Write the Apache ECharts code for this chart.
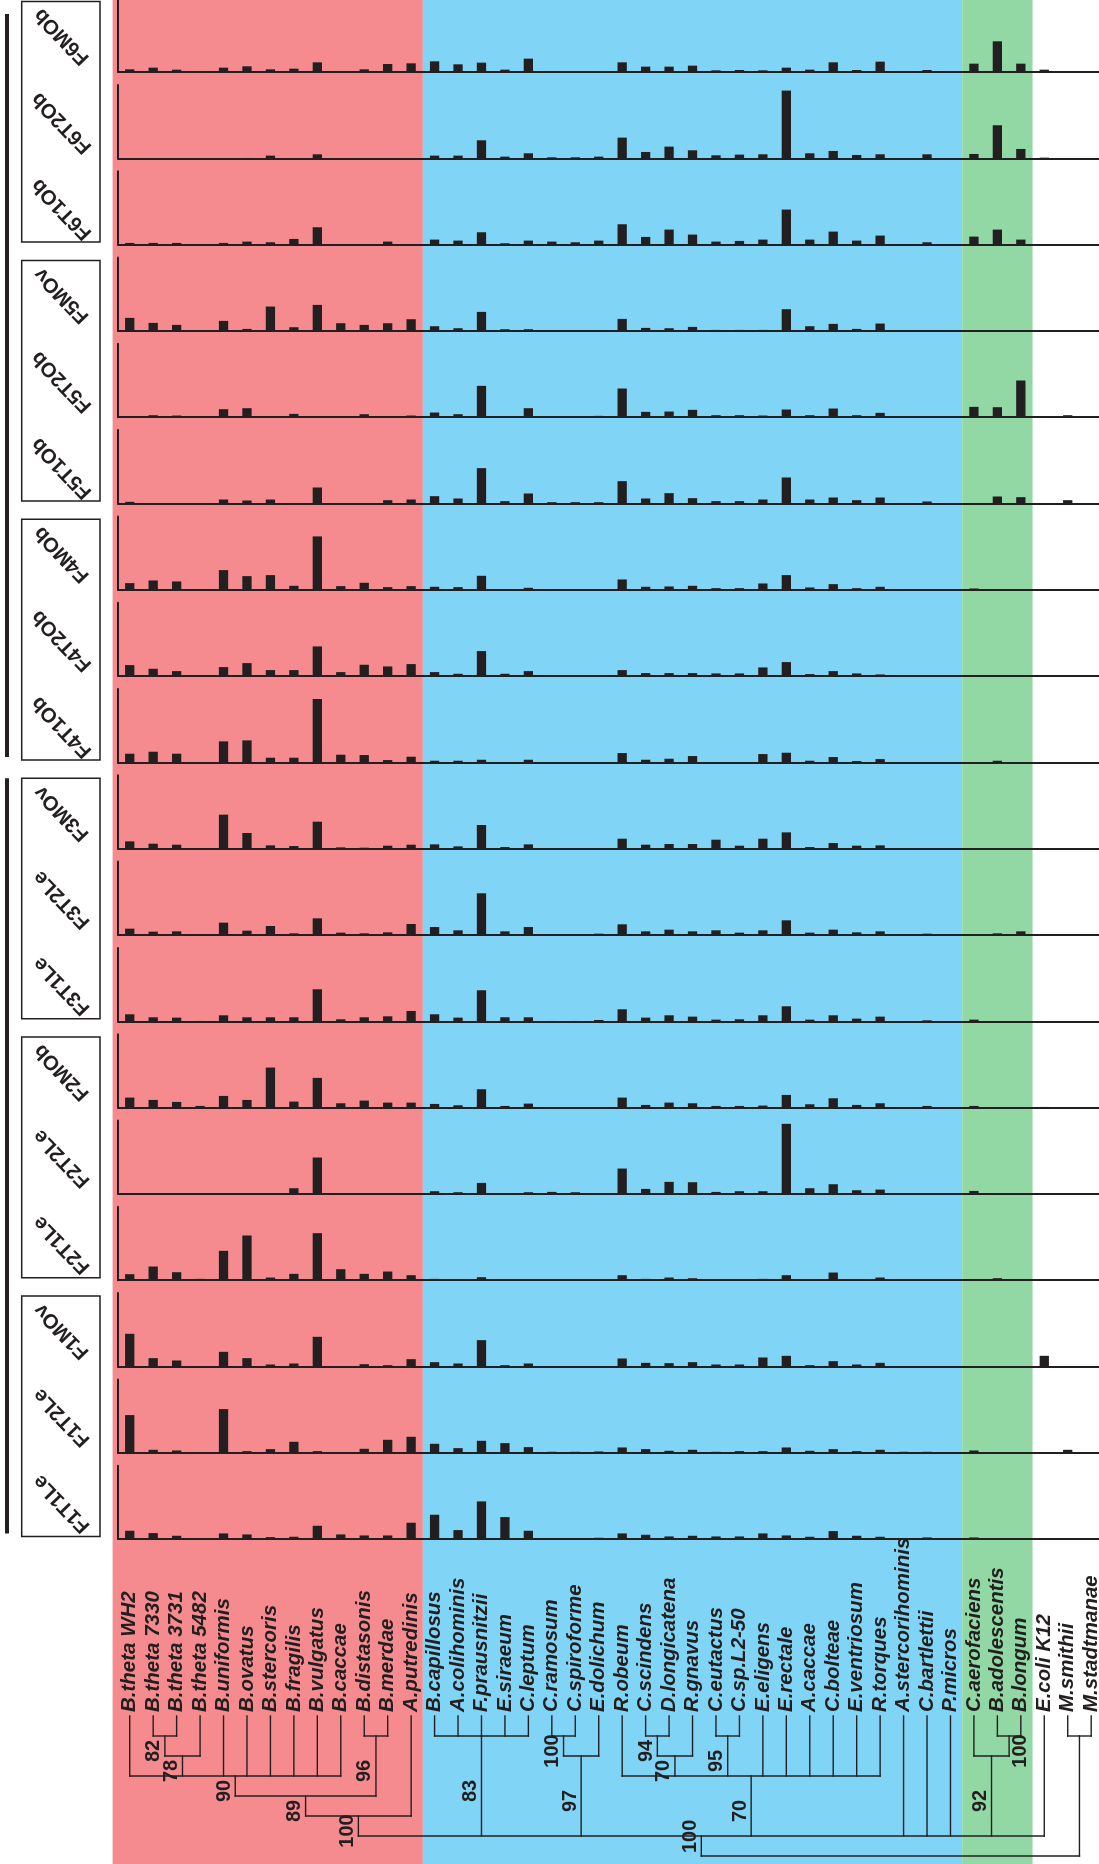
<!DOCTYPE html>
<html>
<head>
<meta charset="utf-8">
<title>Relative abundance of reference gut genomes across family samples</title>
<script src="https://cdn.jsdelivr.net/npm/echarts@6/dist/echarts.min.js"></script>
<style>
  html, body { margin: 0; padding: 0; background: #ffffff; }
  #chart { width: 1099px; height: 1864px; }
</style>
</head>
<body>
<div id="chart"></div>
<script>
// ---------------------------------------------------------------------------
// Data
// ---------------------------------------------------------------------------

// Reference genomes (columns), ordered as in the phylogeny below.
const species = [
  'B.theta WH2', 'B.theta 7330', 'B.theta 3731', 'B.theta 5482', 'B.uniformis',
  'B.ovatus', 'B.stercoris', 'B.fragilis', 'B.vulgatus', 'B.caccae',
  'B.distasonis', 'B.merdae', 'A.putredinis',
  'B.capillosus', 'A.colihominis', 'F.prausnitzii', 'E.siraeum', 'C.leptum',
  'C.ramosum', 'C.spiroforme', 'E.dolichum', 'R.obeum', 'C.scindens',
  'D.longicatena', 'R.gnavus', 'C.eutactus', 'C.sp.L2-50', 'E.eligens',
  'E.rectale', 'A.caccae', 'C.bolteae', 'E.ventriosum', 'R.torques',
  'A.stercorihominis', 'C.bartlettii', 'P.micros',
  'C.aerofaciens', 'B.adolescentis', 'B.longum',
  'E.coli K12', 'M.smithii', 'M.stadtmanae'
];

// Shaded phyla (inclusive column ranges).
const phylumNames  = ['Bacteroidetes', 'Firmicutes', 'Actinobacteria'];
const phylumFirst  = [0, 13, 36];
const phylumLast   = [12, 35, 38];

// Samples (rows, top to bottom) and the family each belongs to.
const samples = [
  'F6MOb', 'F6T2Ob', 'F6T1Ob',
  'F5MOv', 'F5T2Ob', 'F5T1Ob',
  'F4MOb', 'F4T2Ob', 'F4T1Ob',
  'F3MOv', 'F3T2Le', 'F3T1Le',
  'F2MOb', 'F2T2Le', 'F2T1Le',
  'F1MOv', 'F1T2Le', 'F1T1Le'
];
const families = ['F6', 'F5', 'F4', 'F3', 'F2', 'F1'];
const familyBlocks = [['F6', 'F5', 'F4'], ['F3', 'F2', 'F1']];

// Relative abundance (%) per reference genome, one array per sample.
//               Bacteroidetes ........................................  Firmicutes ..............................................................................................  Actino.........  other
const F6MOb  = [0.8,1.3,0.7,0.2,1.3,1.7,0.8,1.0,2.9,0.2,0.8,2.4,2.6,  3.2,2.3,2.8,0.7,4.0,0.2,0.2,0.2,2.9,1.6,1.6,1.9,0.5,0.6,0.5,1.3,0.7,2.9,0.6,3.1,0.3,0.6,0,  2.5,9.2,2.5,  0.7,0.2,0];
const F6T2Ob = [0,0,0,0,0,0.1,0.8,0,1.2,0,0,0,0,  0.8,0.8,5.4,0.5,1.5,0.3,0.3,0.5,6.2,1.9,3.5,2.4,0.9,1.1,1.2,20.3,1.5,2.2,1.0,1.2,0,1.2,0,  1.3,9.9,2.8,  0.2,0,0];
const F6T1Ob = [0.5,0.5,0.5,0,0.5,0.9,0.7,1.7,5.2,0,0,0.9,0.1,  1.5,1.2,3.7,0.4,1.2,0.9,0.7,1.2,6.1,2.3,4.5,3.0,0.9,1.1,1.5,10.5,1.5,3.9,1.2,2.7,0,0.7,0,  2.4,4.5,1.5,  0,0,0];
const F5MOv  = [3.9,2.4,1.8,0.2,3.0,0.6,7.3,1.1,7.8,2.3,1.8,2.3,3.5,  1.4,0.8,5.7,0.5,0.5,0.2,0.1,0.2,3.6,0.9,0.8,1.2,0.3,0.3,0.3,6.5,1.4,2.1,0.6,2.2,0,0.2,0,  0,0,0.2,  0,0,0];
const F5T2Ob = [0.3,0.6,0.5,0,2.4,2.7,0.3,1.0,0,0.2,0.9,0,0.5,  1.4,0.9,9.4,0.3,2.7,0.2,0,0.4,8.6,1.6,1.7,2.2,0.6,0.6,0.5,2.3,0.6,2.6,0.6,1.3,0,0.2,0,  3.1,3.0,11.0,  0.2,0.6,0];
const F5T1Ob = [0.5,0,0,0,1.2,0.9,1.2,0,4.8,0,0,1.0,1.2,  2.2,1.5,10.6,0.7,3.0,0.4,0.4,0.4,6.7,1.5,3.1,1.6,0.7,0.7,1.2,7.8,1.2,1.8,1.0,1.8,0,0.6,0,  0,2.1,1.9,  0,1.0,0];
const F4MOb  = [2.0,2.8,2.5,0.2,5.9,4.1,4.4,1.2,16.0,1.1,2.1,0.8,1.1,  0.9,0.8,4.2,0.2,0.6,0,0,0.2,3.1,0.9,1.0,1.2,0.5,0.5,1.9,4.4,0.7,1.7,0.5,0.9,0,0.2,0,  0.4,0,0,  0.2,0,0];
const F4T2Ob = [3.3,2.2,1.5,0.1,2.7,3.9,1.8,1.8,8.9,1.2,3.4,2.9,3.6,  1.2,0.7,7.5,0.7,1.5,0.2,0.2,0.2,1.8,0.9,0.9,0.9,0.8,0.8,2.6,4.2,0.6,1.5,0.8,0.5,0,0.3,0,  0.2,0.3,0.2,  0.2,0,0];
const F4T1Ob = [2.6,3.2,2.6,0.1,6.3,6.6,1.4,1.4,19.0,2.3,2.2,0.7,1.7,  0.5,0.5,0.8,0,0.8,0,0,0,2.8,0.8,1.1,1.9,0.1,0.1,2.5,2.9,0.5,1.6,0.4,1.0,0,0.1,0,  0,0.5,0,  0.1,0,0];
const F3MOv  = [2.2,1.5,1.2,0,10.2,4.7,1.0,0.8,8.1,0.4,0.3,0.9,1.2,  1.3,0.7,7.1,0.5,1.3,0.1,0.1,0,3.0,1.2,1.4,1.4,2.7,0.9,3.0,4.9,0.5,1.7,0.9,1.0,0,0.1,0,  0.1,0,0,  0,0,0];
const F3T2Le = [1.9,1.0,1.1,0,3.7,1.3,2.7,0.5,5.0,0.7,0.5,0.8,3.3,  2.4,1.4,12.5,1.1,2.4,0.1,0.1,0.4,3.2,1.1,1.6,1.1,1.4,0.7,1.4,4.4,0.7,1.6,0.8,1.1,0.2,0.4,0,  0.2,0.5,1.1,  0,0,0];
const F3T1Le = [2.1,1.2,1.1,0.1,1.8,1.2,1.2,1.2,9.6,0.6,1.2,1.5,3.1,  2.1,1.1,9.3,1.2,1.2,0.1,0.1,0.4,3.6,1.1,1.8,1.4,0.5,0.6,1.8,4.5,0.5,1.8,0.8,1.4,0,0.3,0,  0.5,0,0,  0,0,0];
const F2MOb  = [3.0,2.3,1.7,0.5,3.5,2.3,12.0,1.8,8.9,1.3,2.1,1.5,1.5,  1.1,0.7,5.5,0.5,1.2,0.1,0.1,0.1,3.0,0.8,1.5,1.3,0.5,0.5,0.6,3.8,1.0,2.8,0.8,1.3,0,0.5,0,  0.5,0,0,  0.2,0,0];
const F2T2Le = [0.1,0,0,0,0,0,0.2,1.7,10.9,0,0,0.2,0,  0.8,0.5,3.3,0.2,0.5,0.6,0.5,0.2,7.6,1.5,3.6,3.5,0.6,0.8,0.8,21.0,1.7,2.9,1.1,1.3,0,0.2,0,  0.9,0,0,  0.2,0,0];
const F2T1Le = [1.8,4.1,2.4,0.4,8.8,13.4,0.8,1.9,14.1,3.3,1.9,2.6,1.5,  0.4,0.2,0.9,0,0,0,0,0,1.5,0.4,0.8,0.6,0.1,0.3,0.4,1.5,0.1,2.3,0.1,0.8,0,0,0,  0,0.6,0,  0,0,0];
const F1MOv  = [9.8,2.5,1.8,0,4.4,2.5,0.6,0.9,8.9,0,0.7,0.4,2.2,  1.3,0.9,7.9,0.4,0.9,0,0,0,2.4,1.1,1.0,1.3,0.6,0.6,2.7,3.2,0.4,1.6,0.6,1.1,0,0,0,  0,0,0,  3.2,0,0];
const F1T2Le = [11.3,0.9,0.7,0,13.1,0.5,1.1,3.3,0.5,0.2,1.2,3.9,4.8,  2.7,1.4,3.6,2.9,1.7,0.3,0.3,0.4,1.6,1.1,0.6,0.9,0.3,0.5,0.5,1.6,0.6,1.1,0.5,0.9,0.3,0.3,0,  0.7,0,0,  0,0.9,0];
const F1T1Le = [2.5,1.8,1.0,0,1.7,1.4,0.6,0.7,4.0,1.4,1.1,1.1,4.9,  7.3,2.7,11.3,6.6,2.5,0.2,0.2,0.4,1.7,1.3,0.8,1.0,0.8,0.8,1.7,1.1,0.7,2.4,1.0,0.7,0.3,0.5,0,  0.5,0.2,0.2,  0.3,0,0];

const abundances = [
  F6MOb, F6T2Ob, F6T1Ob, F5MOv, F5T2Ob, F5T1Ob, F4MOb, F4T2Ob, F4T1Ob,
  F3MOv, F3T2Le, F3T1Le, F2MOb, F2T2Le, F2T1Le, F1MOv, F1T2Le, F1T1Le
];

// Phylogeny of the reference genomes; leaves are column indices, numbers are bootstrap support.
const phylogeny = {
  children: [
    { name: 'Bacteria', support: 100, children: [
      { name: 'Bacteroidetes', support: 100, children: [
        { support: 89, children: [
          { support: 90, children: [
            0,
            { support: 78, children: [{ support: 82, children: [1, 2] }, 3] },
            4, 5, 6, 7, 8, 9
          ] },
          { support: 96, children: [10, 11] }
        ] },
        12
      ] },
      { support: 83, children: [13, 14, 15, 16, 17] },
      { support: 97, children: [{ support: 100, children: [18, 19] }, 20] },
      { support: 70, children: [
        21,
        { support: 70, children: [{ support: 94, children: [22, 23] }, 24] },
        { support: 95, children: [25, 26] },
        27, 28, 29, 30, 31, 32
      ] },
      33, 34, 35,
      { name: 'Actinobacteria', support: 92, children: [36, { name: 'Bifidobacterium', support: 100, children: [37, 38] }] },
      39
    ] },
    { name: 'Archaea', children: [40, 41] }
  ]
};

// ---------------------------------------------------------------------------
// Layout and styling
// ---------------------------------------------------------------------------
const W = 1099, H = 1864;
const INK = '#231f20';
const PHYLUM_COLORS = ['#f58b8f', '#80d4f6', '#91d8a4'];
const FONT = '"Liberation Sans", Arial, Helvetica, sans-serif';

const BAND = 23.45;                       // width of one genome column
const PLOT_LEFT = 118;                    // left edge of every panel
const PLOT_WIDTH = BAND * species.length;
const ROW0 = 72, ROW_STEP = 86.3, ROW_H = 73.4;
const Y_MAX = 22;
const TREE_TOP = 1716, TREE_LEVEL = 20, TREE_LEVELS = 7;
const SUPPORT_SIZE = 20;
const SAMPLE_SIZE = 20.5;
const SAMPLE_ANGLE = 134 * Math.PI / 180;
const baseline = k => ROW0 + k * ROW_STEP;

const BOX_X = 21.7, BOX_W = 78.3;
const boxTop = f => baseline(3 * f) - 70.5;
const boxBottom = f => baseline(3 * f + 2) - 2.5;

const textStyle = (text, size) => ({
  text, fill: INK,
  fontSize: size, fontWeight: 'bold', fontFamily: FONT,
  font: 'bold ' + size + 'px ' + FONT,
  align: 'center', verticalAlign: 'middle',
  textAlign: 'center', textVerticalAlign: 'middle'
});

const grids = [], xAxes = [], yAxes = [], series = [];

// One small bar chart per sample.
samples.forEach((name, k) => {
  grids.push({
    left: PLOT_LEFT, top: baseline(k) - ROW_H, width: PLOT_WIDTH, height: ROW_H,
    containLabel: false, outerBoundsMode: 'none'
  });
  xAxes.push({
    type: 'category', gridIndex: k, data: species, boundaryGap: true, z: 5,
    axisLine: { show: true, onZero: false, lineStyle: { color: INK, width: 2 } },
    axisTick: { show: false }, axisLabel: { show: false }, splitLine: { show: false }
  });
  yAxes.push({
    type: 'value', gridIndex: k, min: 0, max: Y_MAX, z: 5,
    axisLine: { show: true, onZero: false, lineStyle: { color: INK, width: 2 } },
    axisTick: { show: false }, axisLabel: { show: false }, splitLine: { show: false }
  });
  series.push({
    type: 'bar', name, xAxisIndex: k, yAxisIndex: k, data: abundances[k],
    barWidth: 9.3, z: 4, silent: true,
    itemStyle: { color: INK }
  });
});

// Genome names and phylogeny under the panels.
const TREE_GRID = samples.length;
grids.push({
  left: PLOT_LEFT, top: TREE_TOP, width: PLOT_WIDTH, height: TREE_LEVEL * TREE_LEVELS,
  containLabel: false, outerBoundsMode: 'none'
});
xAxes.push({
  type: 'category', gridIndex: TREE_GRID, position: 'top', data: species, boundaryGap: true,
  axisLine: { show: false }, axisTick: { show: false }, splitLine: { show: false },
  axisLabel: {
    show: true, interval: 0, rotate: 90, margin: 4,
    color: INK, fontFamily: FONT, fontSize: 20.5, fontWeight: 'bold', fontStyle: 'italic'
  }
});
const TREE_X = xAxes.length;
xAxes.push({ type: 'value', gridIndex: TREE_GRID, min: -0.5, max: species.length - 0.5, show: false });
const TREE_Y = yAxes.length;
yAxes.push({ type: 'value', gridIndex: TREE_GRID, min: 0, max: TREE_LEVELS, inverse: true, show: false });

// Cladogram: each clade sits at its height above the leaves, centred over its outer members.
const segments = [], supports = [];
function layoutClade(node) {
  if (typeof node === 'number') return { x: node, level: 0 };
  const kids = node.children.map(layoutClade);
  const level = Math.max(...kids.map(c => c.level)) + 1;
  const first = kids[0].x, last = kids[kids.length - 1].x;
  segments.push([first, level, last, level]);
  kids.forEach(c => {
    segments.push([c.x, c.level, c.x, level]);
    if (c.support != null) {
      supports.push({ x: c.x, from: c.level, to: level, text: String(c.support), right: c.name === 'Bifidobacterium' });
    }
  });
  return { x: (first + last) / 2, level, support: node.support, name: node.name };
}
layoutClade(phylogeny);

series.push({
  type: 'custom', xAxisIndex: TREE_X, yAxisIndex: TREE_Y, z: 4, silent: true, clip: false,
  data: segments,
  encode: { x: [0, 2], y: [1, 3] },
  renderItem: (params, api) => {
    const p1 = api.coord([api.value(0), api.value(1)]);
    const p2 = api.coord([api.value(2), api.value(3)]);
    return {
      type: 'line',
      shape: { x1: p1[0], y1: p1[1], x2: p2[0], y2: p2[1] },
      style: { stroke: INK, lineWidth: 1.4, lineCap: 'square' }
    };
  }
});

// Bootstrap values beside each supported stem, kept above the lowest branch.
series.push({
  type: 'custom', xAxisIndex: TREE_X, yAxisIndex: TREE_Y, z: 4, silent: true, clip: false,
  data: supports.map(s => [s.x, (s.from + s.to) / 2]),
  renderItem: (params, api) => {
    const s = supports[params.dataIndex];
    const p = api.coord([api.value(0), api.value(1)]);
    const floor = api.coord([0, TREE_LEVELS])[1] - 3;
    const half = s.text.length * SUPPORT_SIZE * 0.278;
    const cy = Math.min(p[1] + 5, floor - half);
    return {
      type: 'text',
      x: p[0] + (s.right ? 11 : -11), y: cy,
      rotation: Math.PI / 2,
      style: textStyle(s.text, SUPPORT_SIZE)
    };
  }
});

// Phylum shading behind everything, full height of the figure.
const BG_GRID = grids.length;
grids.push({ left: 0, top: 0, width: W, height: H, containLabel: false, outerBoundsMode: 'none' });
const BG_X = xAxes.length;
const bgMin = -0.5 - PLOT_LEFT / BAND;
xAxes.push({ type: 'value', gridIndex: BG_GRID, min: bgMin, max: bgMin + W / BAND, show: false });
const BG_Y = yAxes.length;
yAxes.push({ type: 'value', gridIndex: BG_GRID, min: 0, max: 1, show: false });
series.push({
  type: 'custom', xAxisIndex: BG_X, yAxisIndex: BG_Y, z: 0, silent: true, clip: false,
  data: phylumNames.map((n, i) => [phylumFirst[i] - 0.5, phylumLast[i] + 0.5]),
  renderItem: (params, api) => {
    const a = api.coord([api.value(0), 1]);
    const b = api.coord([api.value(1), 0]);
    const lead = params.dataIndex === 0 ? 5.4 : 0;   // shading also covers the panels' y axes
    return {
      type: 'rect',
      shape: { x: a[0] - lead, y: a[1], width: b[0] - a[0] + lead, height: b[1] - a[1] },
      style: { fill: PHYLUM_COLORS[params.dataIndex] }
    };
  }
});

// Family boxes and family-group bars at the left.
const elements = [];
families.forEach((fam, f) => {
  elements.push({
    type: 'rect', z: 10, silent: true,
    shape: { x: BOX_X, y: boxTop(f), width: BOX_W, height: boxBottom(f) - boxTop(f) },
    style: { fill: '#ffffff', stroke: INK, lineWidth: 1.5 }
  });
});
familyBlocks.forEach(block => {
  const f0 = families.indexOf(block[0]);
  const f1 = families.indexOf(block[block.length - 1]);
  const top = Math.max(boxTop(f0), 14);
  elements.push({
    type: 'rect', z: 10, silent: true,
    shape: { x: 5, y: top, width: 4, height: boxBottom(f1) - 3 - top },
    style: { fill: INK }
  });
});

// Sample names, one per panel, set diagonally inside the family boxes.
series.push({
  type: 'custom', coordinateSystem: 'none', z: 20, silent: true, clip: false,
  data: samples.map((s, k) => [k]),
  renderItem: (params) => {
    const k = params.dataIndex;
    return {
      type: 'text',
      x: BOX_X + BOX_W / 2 + 1, y: baseline(k) - 35.5,
      rotation: SAMPLE_ANGLE,
      style: textStyle(samples[k], SAMPLE_SIZE),
      z2: 30
    };
  }
});

const option = {
  animation: false,
  backgroundColor: '#ffffff',
  tooltip: { show: false },
  grid: grids,
  xAxis: xAxes,
  yAxis: yAxes,
  series,
  graphic: { elements }
};

const chart = echarts.init(document.getElementById('chart'), null, { renderer: 'canvas', width: W, height: H });
chart.setOption(option);
</script>
</body>
</html>
